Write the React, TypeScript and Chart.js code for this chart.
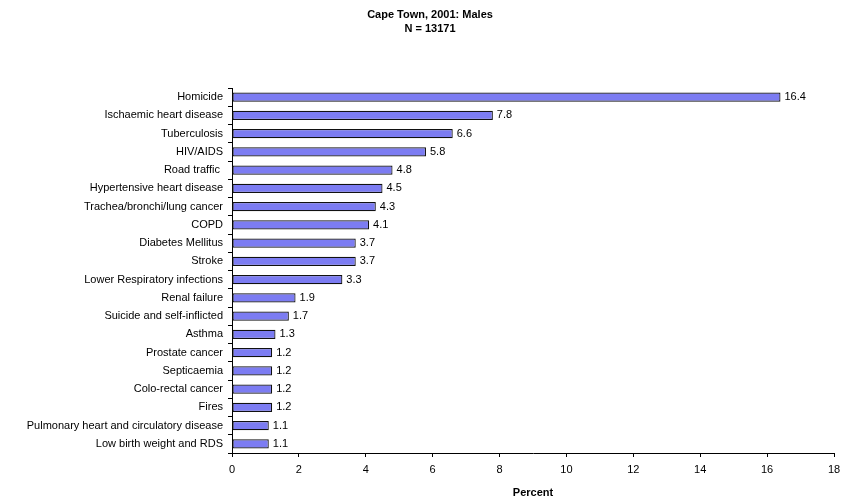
import React, { useEffect, useRef } from "react";
import { Chart, registerables } from "chart.js";

Chart.register(...registerables);

const categories = [
  "Homicide",
  "Ischaemic heart disease",
  "Tuberculosis",
  "HIV/AIDS",
  "Road traffic ",
  "Hypertensive heart disease",
  "Trachea/bronchi/lung cancer",
  "COPD",
  "Diabetes Mellitus",
  "Stroke",
  "Lower Respiratory infections",
  "Renal failure",
  "Suicide and self-inflicted",
  "Asthma",
  "Prostate cancer",
  "Septicaemia",
  "Colo-rectal cancer",
  "Fires",
  "Pulmonary heart and circulatory disease",
  "Low birth weight and RDS",
];
const values = [16.4, 7.8, 6.6, 5.8, 4.8, 4.5, 4.3, 4.1, 3.7, 3.7, 3.3, 1.9, 1.7, 1.3, 1.2, 1.2, 1.2, 1.2, 1.1, 1.1];
const titleLines = ["Cape Town, 2001: Males", "N = 13171"];
const xAxisTitle = "Percent";

const FONT = "Arial, 'Liberation Sans', sans-serif";

const labelPlugin = {
  id: "valueLabels",
  afterDatasetsDraw(chart: any) {
    const ctx = chart.ctx;
    const meta = chart.getDatasetMeta(0);
    ctx.save();
    ctx.font = `11px ${FONT}`;
    ctx.fillStyle = "#000";
    ctx.textAlign = "left";
    ctx.textBaseline = "middle";
    meta.data.forEach((bar: any, i: number) => {
      ctx.fillText(values[i].toFixed(1), bar.x + 4, bar.y);
    });
    ctx.restore();
  },
};

const titlePlugin = {
  id: "customTitle",
  afterDraw(chart: any) {
    const ctx = chart.ctx;
    ctx.save();
    ctx.font = `bold 11px ${FONT}`;
    ctx.fillStyle = "#000";
    ctx.textAlign = "center";
    ctx.textBaseline = "middle";
    ctx.fillText(titleLines[0], 430, 15);
    ctx.fillText(titleLines[1], 430, 29);
    ctx.restore();
  },
};

export default function App() {
  const ref = useRef<HTMLCanvasElement>(null);
  useEffect(() => {
    if (!ref.current) return;
    const chart = new Chart(ref.current, {
      type: "bar",
      data: {
        labels: categories,
        datasets: [
          {
            data: values,
            backgroundColor: "#7c7cf2",
            borderColor: "#111",
            borderWidth: 1.2,
            borderSkipped: false,
            categoryPercentage: 1,
            barPercentage: 0.5,
          },
        ],
      },
      options: {
        indexAxis: "y",
        animation: false,
        responsive: false,
        maintainAspectRatio: false,
        layout: { padding: { top: 88, right: 8, left: 0, bottom: 0 } },
        plugins: {
          legend: { display: false },
          title: { display: false },
          tooltip: { enabled: false },
        },
        scales: {
          x: {
            type: "linear",
            min: 0,
            max: 18,
            ticks: { stepSize: 2, color: "#000", font: { size: 11, family: FONT }, padding: 6 },
            grid: { drawOnChartArea: false, drawTicks: true, tickLength: 4, color: "#000" },
            border: { display: true, color: "#000", width: 1 },
            title: {
              display: true,
              text: xAxisTitle,
              color: "#000",
              font: { size: 11, weight: "bold", family: FONT },
              padding: { top: 6, bottom: 0 },
            },
            afterFit: (scale: any) => {
              scale.height = 47;
              scale.paddingLeft = 0;
              scale.paddingRight = 0;
            },
          },
          y: {
            ticks: { color: "#000", font: { size: 11, family: FONT }, padding: 5, autoSkip: false },
            grid: { drawOnChartArea: false, drawTicks: true, tickLength: 4, color: "#000", offset: true },
            border: { display: true, color: "#000", width: 1 },
            afterFit: (scale: any) => {
              scale.width = 232;
              scale.paddingTop = 0;
              scale.paddingBottom = 0;
            },
          },
        },
      },
      plugins: [labelPlugin, titlePlugin],
    });
    return () => chart.destroy();
  }, []);
  return (
    <div style={{ position: "fixed", left: 0, top: 0, width: 842, height: 500, background: "#fff" }}>
      <canvas ref={ref} width={842} height={500} style={{ width: 842, height: 500 }} />
    </div>
  );
}
